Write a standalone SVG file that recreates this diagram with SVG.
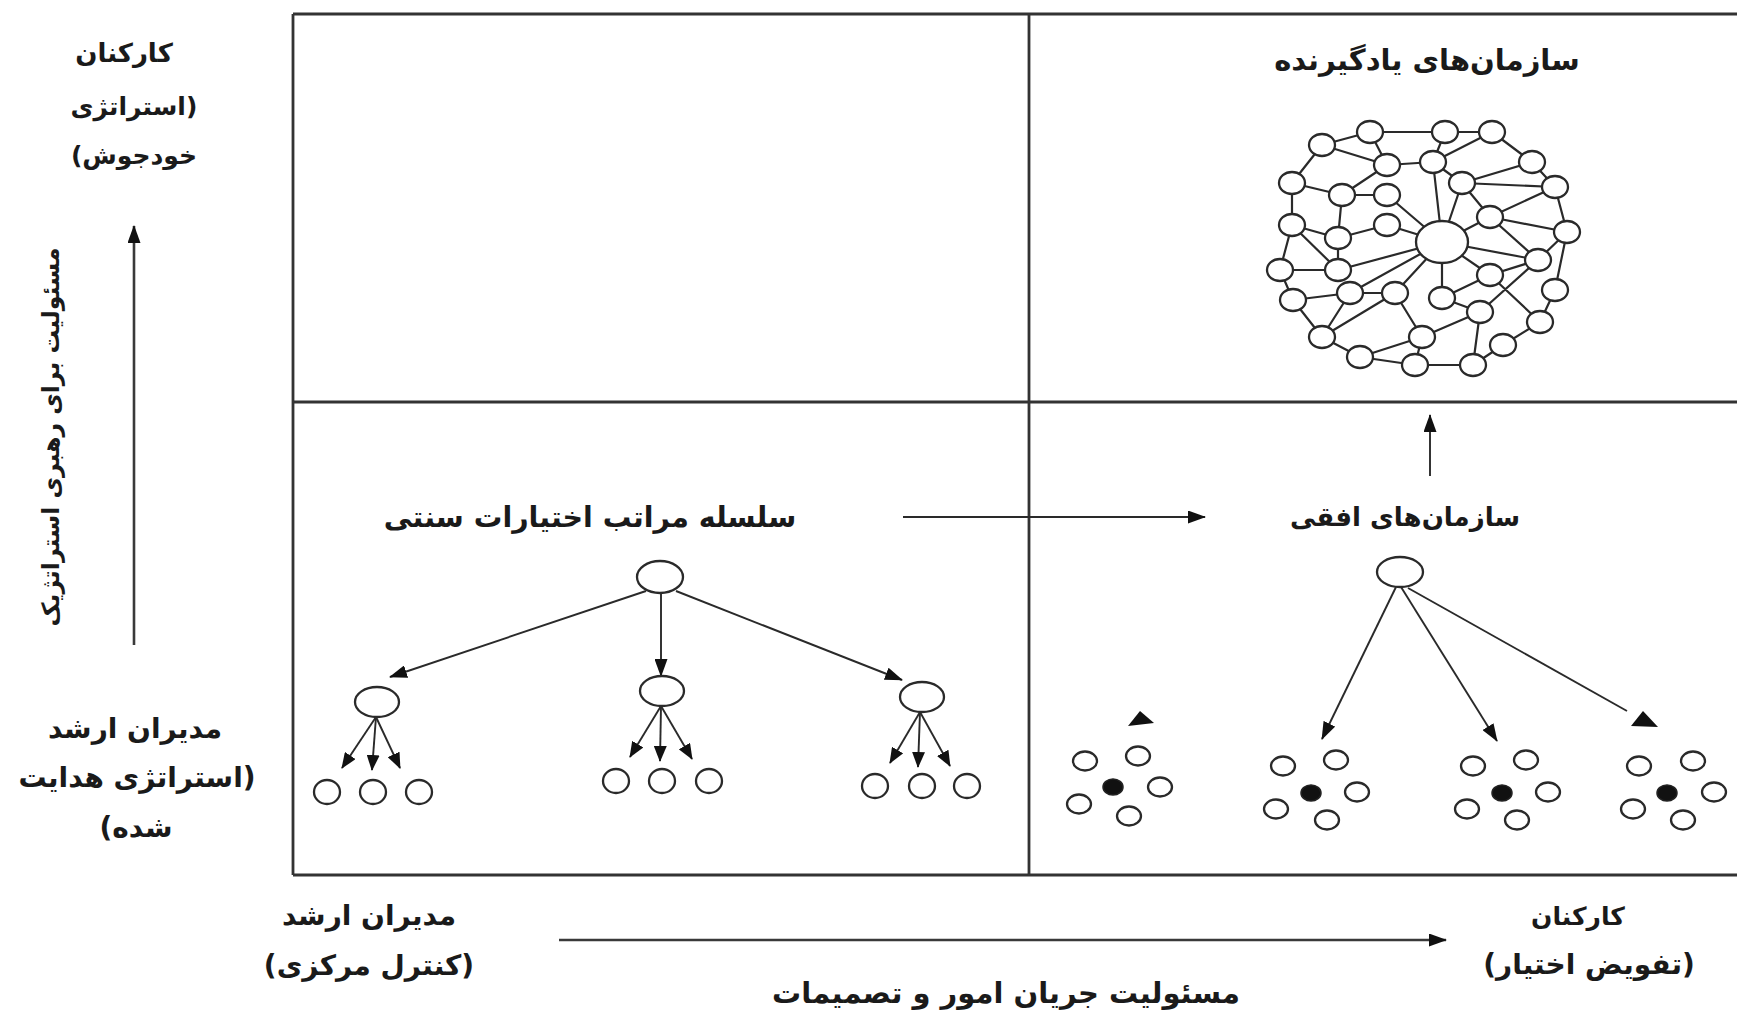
<svg xmlns="http://www.w3.org/2000/svg" width="1737" height="1015" viewBox="0 0 1737 1015">
<style>
.t{font-family:"DejaVu Sans",sans-serif;font-weight:bold;font-size:28px;fill:#1a1a1a;text-anchor:middle;direction:rtl}
.frame{stroke:#333;stroke-width:2.8;fill:none}
.ln{stroke:#2a2a2a;stroke-width:1.9;fill:none}
.ax{stroke:#3a3a3a;stroke-width:2.6;fill:none}
.nd{fill:#fff;stroke:#2a2a2a;stroke-width:2.3}
.net{stroke:#2a2a2a;stroke-width:2.2;fill:none}
.dot{fill:#111;stroke:#222;stroke-width:1.5}
.tri{fill:#111}
</style>
<defs>
<marker id="ah" viewBox="0 0 16 13" refX="15" refY="6.5" markerWidth="16" markerHeight="13" markerUnits="userSpaceOnUse" orient="auto"><path d="M0,0 L16,6.5 L0,13 z" fill="#111"/></marker>
<marker id="ahL" viewBox="0 0 18 13" refX="17" refY="6.5" markerWidth="18" markerHeight="13" markerUnits="userSpaceOnUse" orient="auto"><path d="M0,0 L18,6.5 L0,13 z" fill="#111"/></marker>
</defs>
<rect width="1737" height="1015" fill="#fff"/>

<g id="frame">
<line class="frame" x1="293" y1="14" x2="1737" y2="14"/>
<line class="frame" x1="293" y1="14" x2="293" y2="875"/>
<line class="frame" x1="293" y1="875" x2="1737" y2="875"/>
<line class="frame" x1="1029" y1="14" x2="1029" y2="875"/>
<line class="frame" x1="293" y1="402" x2="1737" y2="402"/>
</g>

<g id="axis-labels">
<text class="t" x="124" y="62" style="font-size:26px">کارکنان</text>
<text class="t" x="134" y="115" style="font-size:25px">(استراتژی</text>
<text class="t" x="134" y="164" style="font-size:25px">خودجوش)</text>
<text class="t" transform="translate(59,437) rotate(-90)" style="font-size:23.5px">مسئولیت برای رهبری استراتژیک</text>
<text class="t" x="135" y="738">مدیران ارشد</text>
<text class="t" x="137" y="787">(استراتژی هدایت</text>
<text class="t" x="136" y="837">شده)</text>
<text class="t" x="369" y="925">مدیران ارشد</text>
<text class="t" x="369" y="975">(کنترل مرکزی)</text>
<text class="t" x="1578" y="925" style="font-size:25px">کارکنان</text>
<text class="t" x="1589" y="974">(تفویض اختیار)</text>
<text class="t" x="1006" y="1003" style="font-size:29px">مسئولیت جریان امور و تصمیمات</text>
</g>

<g id="quadrant-labels">
<text class="t" x="1427" y="70" style="font-size:29px">سازمان‌های یادگیرنده</text>
<text class="t" x="590" y="527" style="font-size:28.5px">سلسله مراتب اختیارات سنتی</text>
<text class="t" x="1405" y="526" style="font-size:26px">سازمان‌های افقی</text>
</g>

<g id="connectors">
<line class="ax" x1="134" y1="645" x2="134" y2="226" marker-end="url(#ahL)"/>
<line class="ax" x1="559" y1="940" x2="1446" y2="940" marker-end="url(#ahL)"/>
<line class="ln" x1="903" y1="517" x2="1205" y2="517" marker-end="url(#ahL)"/>
<line class="ln" x1="1430" y1="476" x2="1430" y2="415" marker-end="url(#ahL)"/>
<line class="ln" x1="646" y1="591" x2="390" y2="677" marker-end="url(#ahL)"/>
<line class="ln" x1="661" y1="593" x2="661" y2="676" marker-end="url(#ahL)"/>
<line class="ln" x1="676" y1="591" x2="902" y2="680" marker-end="url(#ahL)"/>
<line class="ln" x1="376" y1="717" x2="342" y2="768" marker-end="url(#ah)"/>
<line class="ln" x1="376" y1="717" x2="372" y2="770" marker-end="url(#ah)"/>
<line class="ln" x1="376" y1="717" x2="400" y2="768" marker-end="url(#ah)"/>
<line class="ln" x1="661" y1="706" x2="630" y2="757" marker-end="url(#ah)"/>
<line class="ln" x1="661" y1="706" x2="660" y2="761" marker-end="url(#ah)"/>
<line class="ln" x1="661" y1="706" x2="692" y2="759" marker-end="url(#ah)"/>
<line class="ln" x1="920" y1="712" x2="890" y2="763" marker-end="url(#ah)"/>
<line class="ln" x1="920" y1="712" x2="918" y2="767" marker-end="url(#ah)"/>
<line class="ln" x1="920" y1="712" x2="950" y2="766" marker-end="url(#ah)"/>
<line class="ln" x1="1396" y1="587" x2="1322" y2="739" marker-end="url(#ahL)"/>
<line class="ln" x1="1401" y1="587" x2="1497" y2="741" marker-end="url(#ahL)"/>
<line class="ln" x1="1408" y1="588" x2="1627" y2="711"/>
<polygon class="tri" points="1140,711 1128,726 1154,723"/>
<polygon class="tri" points="1643,711 1631,726 1658,727"/>
<path class="net" d="M1370,132 L1445,132 M1445,132 L1492,132 M1370,132 L1322,145 M1370,132 L1387,165 M1322,145 L1387,165 M1322,145 L1292,183 M1342,195 L1387,165 M1387,165 L1433,162 M1445,132 L1433,162 M1492,132 L1433,162 M1492,132 L1532,162 M1433,162 L1442,242 M1433,162 L1462,183 M1532,162 L1462,183 M1532,162 L1555,187 M1462,183 L1555,187 M1462,183 L1490,217 M1462,183 L1442,242 M1555,187 L1490,217 M1555,187 L1567,232 M1490,217 L1567,232 M1490,217 L1442,242 M1292,183 L1292,225 M1292,183 L1342,195 M1342,195 L1338,238 M1342,195 L1387,195 M1387,195 L1442,242 M1292,225 L1338,238 M1292,225 L1338,270 M1292,225 L1280,270 M1387,225 L1442,242 M1338,238 L1387,225 M1338,238 L1338,270 M1280,270 L1338,270 M1338,270 L1442,242 M1280,270 L1293,300 M1293,300 L1350,293 M1350,293 L1442,242 M1350,293 L1395,293 M1395,293 L1442,242 M1442,298 L1442,242 M1350,293 L1322,337 M1293,300 L1322,337 M1395,293 L1322,337 M1395,293 L1422,337 M1442,298 L1490,275 M1490,275 L1442,242 M1538,260 L1442,242 M1567,232 L1538,260 M1567,232 L1555,290 M1490,217 L1538,260 M1538,260 L1490,275 M1538,260 L1480,312 M1490,275 L1540,322 M1555,290 L1540,322 M1442,298 L1480,312 M1480,312 L1422,337 M1480,312 L1473,365 M1540,322 L1503,345 M1422,337 L1415,365 M1322,337 L1360,357 M1360,357 L1415,365 M1415,365 L1473,365 M1503,345 L1473,365 M1360,357 L1422,337"/>
</g>

<g id="node-learning">
<ellipse class="nd" cx="1442" cy="242" rx="26" ry="21"/>
<ellipse class="nd" cx="1370" cy="132" rx="13" ry="11"/>
<ellipse class="nd" cx="1445" cy="132" rx="13" ry="11"/>
<ellipse class="nd" cx="1492" cy="132" rx="13" ry="11"/>
<ellipse class="nd" cx="1322" cy="145" rx="13" ry="11"/>
<ellipse class="nd" cx="1387" cy="165" rx="13" ry="11"/>
<ellipse class="nd" cx="1433" cy="162" rx="13" ry="11"/>
<ellipse class="nd" cx="1532" cy="162" rx="13" ry="11"/>
<ellipse class="nd" cx="1292" cy="183" rx="13" ry="11"/>
<ellipse class="nd" cx="1342" cy="195" rx="13" ry="11"/>
<ellipse class="nd" cx="1387" cy="195" rx="13" ry="11"/>
<ellipse class="nd" cx="1462" cy="183" rx="13" ry="11"/>
<ellipse class="nd" cx="1555" cy="187" rx="13" ry="11"/>
<ellipse class="nd" cx="1292" cy="225" rx="13" ry="11"/>
<ellipse class="nd" cx="1387" cy="225" rx="13" ry="11"/>
<ellipse class="nd" cx="1338" cy="238" rx="13" ry="11"/>
<ellipse class="nd" cx="1490" cy="217" rx="13" ry="11"/>
<ellipse class="nd" cx="1567" cy="232" rx="13" ry="11"/>
<ellipse class="nd" cx="1280" cy="270" rx="13" ry="11"/>
<ellipse class="nd" cx="1338" cy="270" rx="13" ry="11"/>
<ellipse class="nd" cx="1538" cy="260" rx="13" ry="11"/>
<ellipse class="nd" cx="1490" cy="275" rx="13" ry="11"/>
<ellipse class="nd" cx="1555" cy="290" rx="13" ry="11"/>
<ellipse class="nd" cx="1293" cy="300" rx="13" ry="11"/>
<ellipse class="nd" cx="1350" cy="293" rx="13" ry="11"/>
<ellipse class="nd" cx="1395" cy="293" rx="13" ry="11"/>
<ellipse class="nd" cx="1442" cy="298" rx="13" ry="11"/>
<ellipse class="nd" cx="1480" cy="312" rx="13" ry="11"/>
<ellipse class="nd" cx="1540" cy="322" rx="13" ry="11"/>
<ellipse class="nd" cx="1322" cy="337" rx="13" ry="11"/>
<ellipse class="nd" cx="1422" cy="337" rx="13" ry="11"/>
<ellipse class="nd" cx="1503" cy="345" rx="13" ry="11"/>
<ellipse class="nd" cx="1360" cy="357" rx="13" ry="11"/>
<ellipse class="nd" cx="1415" cy="365" rx="13" ry="11"/>
<ellipse class="nd" cx="1473" cy="365" rx="13" ry="11"/>
</g>

<g id="node-hier-root"><ellipse class="nd" cx="660" cy="577" rx="23" ry="16"/></g>
<g id="node-hier-left">
<ellipse class="nd" cx="377" cy="702" rx="22" ry="15"/>
<ellipse class="nd" cx="327" cy="792" rx="13" ry="12"/>
<ellipse class="nd" cx="373" cy="792" rx="13" ry="12"/>
<ellipse class="nd" cx="419" cy="792" rx="13" ry="12"/>
</g>
<g id="node-hier-mid">
<ellipse class="nd" cx="662" cy="691" rx="22" ry="15"/>
<ellipse class="nd" cx="616" cy="781" rx="13" ry="12"/>
<ellipse class="nd" cx="662" cy="781" rx="13" ry="12"/>
<ellipse class="nd" cx="709" cy="781" rx="13" ry="12"/>
</g>
<g id="node-hier-right">
<ellipse class="nd" cx="922" cy="697" rx="22" ry="15"/>
<ellipse class="nd" cx="875" cy="786" rx="13" ry="12"/>
<ellipse class="nd" cx="922" cy="786" rx="13" ry="12"/>
<ellipse class="nd" cx="967" cy="786" rx="13" ry="12"/>
</g>

<g id="node-flat-root"><ellipse class="nd" cx="1400" cy="572" rx="23" ry="15"/></g>
<g id="node-cluster-1">
<ellipse class="nd" cx="1085" cy="761" rx="12" ry="9.5"/>
<ellipse class="nd" cx="1138" cy="756" rx="12" ry="9.5"/>
<ellipse class="dot" cx="1113" cy="787" rx="10" ry="8"/>
<ellipse class="nd" cx="1160" cy="787" rx="12" ry="9.5"/>
<ellipse class="nd" cx="1079" cy="804" rx="12" ry="9.5"/>
<ellipse class="nd" cx="1129" cy="816" rx="12" ry="9.5"/>
</g>
<g id="node-cluster-2">
<ellipse class="nd" cx="1283" cy="766" rx="12" ry="9.5"/>
<ellipse class="nd" cx="1336" cy="760" rx="12" ry="9.5"/>
<ellipse class="dot" cx="1311" cy="793" rx="10" ry="8"/>
<ellipse class="nd" cx="1357" cy="792" rx="12" ry="9.5"/>
<ellipse class="nd" cx="1276" cy="809" rx="12" ry="9.5"/>
<ellipse class="nd" cx="1327" cy="820" rx="12" ry="9.5"/>
</g>
<g id="node-cluster-3">
<ellipse class="nd" cx="1473" cy="766" rx="12" ry="9.5"/>
<ellipse class="nd" cx="1526" cy="760" rx="12" ry="9.5"/>
<ellipse class="dot" cx="1502" cy="793" rx="10" ry="8"/>
<ellipse class="nd" cx="1548" cy="792" rx="12" ry="9.5"/>
<ellipse class="nd" cx="1467" cy="809" rx="12" ry="9.5"/>
<ellipse class="nd" cx="1517" cy="820" rx="12" ry="9.5"/>
</g>
<g id="node-cluster-4">
<ellipse class="nd" cx="1639" cy="766" rx="12" ry="9.5"/>
<ellipse class="nd" cx="1693" cy="761" rx="12" ry="9.5"/>
<ellipse class="dot" cx="1667" cy="793" rx="10" ry="8"/>
<ellipse class="nd" cx="1714" cy="792" rx="12" ry="9.5"/>
<ellipse class="nd" cx="1633" cy="809" rx="12" ry="9.5"/>
<ellipse class="nd" cx="1683" cy="820" rx="12" ry="9.5"/>
</g>
</svg>
